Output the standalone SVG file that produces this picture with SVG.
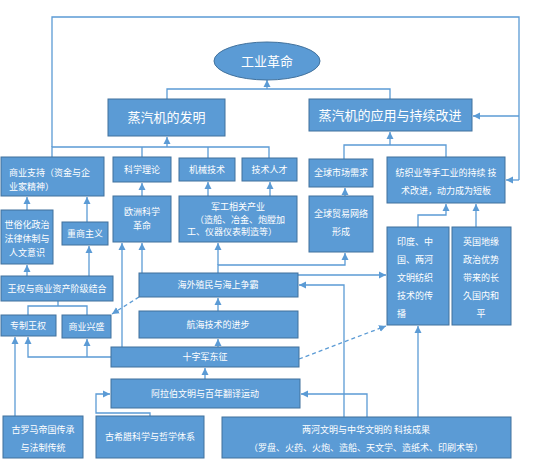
<svg xmlns="http://www.w3.org/2000/svg" width="554" height="470" viewBox="0 0 554 470">
<defs>
<marker id="ah" markerUnits="userSpaceOnUse" markerWidth="8" markerHeight="8" refX="7" refY="4" orient="auto">
<path d="M0,0.5 L7,4 L0,7.5 z" fill="#5B9BD5"/>
</marker>
<style>
.b{fill:#5B9BD5;stroke:#41719C;stroke-width:1}
.t{fill:#fff;font-family:"Noto Sans CJK SC","Noto Sans",sans-serif;font-size:9px;text-anchor:middle}
.l{text-anchor:start}
.big{font-size:13px}
.c{fill:none;stroke:#5B9BD5;stroke-width:1.3}
.a{marker-end:url(#ah)}
.d{stroke-dasharray:4,3}
</style>
</defs>
<rect width="554" height="470" fill="#fff"/>
<g id="connectors">
<path class="c" d="M167 99 V89 H390 V99"/>
<path class="c a" d="M267 89 V80"/>
<path class="c" d="M52 158 V147 H269 V158 M142 157 V147 M208 158 V147"/>
<path class="c a" d="M167 147 V137"/>
<path class="c" d="M52 147 V17 H519 V180"/>
<path class="c a" d="M519 116 H473"/>
<path class="c a" d="M519 180 H506"/>
<path class="c" d="M344 159 V145 H446 V157"/>
<path class="c a" d="M390 145 V132"/>
<path class="c a" d="M27 210 V197"/>
<path class="c a" d="M87 222 V197"/>
<path class="c a" d="M27 276 V265"/>
<path class="c a" d="M89 276 V246"/>
<path class="c a" d="M142 196 V183"/>
<path class="c a" d="M142 273 V243"/>
<path class="c a" d="M122 347 V243"/>
<path class="c a" d="M208 196 V182"/>
<path class="c a" d="M270 196 V182"/>
<path class="c a" d="M345 196 V188"/>
<path class="c a" d="M218 273 V265 H345 V253"/>
<path class="c a" d="M218 265 V243"/>
<path class="c a" d="M298 275 H386"/>
<path class="c a" d="M344 417 V285 H299"/>
<path class="c a" d="M418 227 V215 H446 V204"/>
<path class="c a" d="M476 227 V204"/>
<path class="c" d="M58 301 V306 M28 315 V306 H87 V315"/>
<path class="c a d" d="M139 297 L112 314"/>
<path class="c a" d="M111 357 H28 V337"/>
<path class="c a" d="M87 357 V339"/>
<path class="c a" d="M15 416 V337"/>
<path class="c a" d="M150 416 V413 H96 V394 H110"/>
<path class="c a" d="M205 379 V368"/>
<path class="c a" d="M218 347 V339"/>
<path class="c a" d="M218 311 V298"/>
<path class="c a" d="M367 417 V394 H301"/>
<path class="c a" d="M418 417 V326"/>
<path class="c a d" d="M299 359 L386 326"/>
</g>
<g id="ind"><ellipse class="b" cx="267" cy="61" rx="53" ry="19"/><text class="t big" x="267" y="66">工业革命</text></g>
<g id="inv"><rect class="b" x="108" y="99" width="117" height="37"/><text class="t big" x="166.5" y="122">蒸汽机的发明</text></g>
<g id="app"><rect class="b" x="309" y="99" width="163" height="32"/><text class="t big" x="390" y="120">蒸汽机的应用与持续改进</text></g>
<g id="biz"><rect class="b" x="1" y="157" width="103" height="39"/><text class="t l" x="9" y="176">商业支持（资金与企</text><text class="t l" x="9" y="190">业家精神）</text></g>
<g id="sci"><rect class="b" x="113" y="157" width="58" height="25"/><text class="t" x="142" y="173">科学理论</text></g>
<g id="mech"><rect class="b" x="179" y="158" width="56" height="23"/><text class="t" x="207" y="173">机械技术</text></g>
<g id="talent"><rect class="b" x="242" y="158" width="55" height="23"/><text class="t" x="269.5" y="173">技术人才</text></g>
<g id="market"><rect class="b" x="309" y="159" width="64" height="28"/><text class="t" x="341" y="176">全球市场需求</text></g>
<g id="textile"><rect class="b" x="387" y="157" width="118" height="46"/><text class="t" x="446" y="176">纺织业等手工业的持续 技</text><text class="t" x="446" y="194">术改进，动力成为短板</text></g>
<g id="secular"><rect class="b" x="1" y="210" width="52" height="54"/><text class="t" x="27" y="228">世俗化政治</text><text class="t" x="27" y="242">法律体制与</text><text class="t" x="27" y="256">人文意识</text></g>
<g id="merc"><rect class="b" x="62" y="222" width="46" height="23"/><text class="t" x="85" y="237">重商主义</text></g>
<g id="eusci"><rect class="b" x="113" y="196" width="58" height="46"/><text class="t" x="142" y="215">欧洲科学</text><text class="t" x="142" y="229">革命</text></g>
<g id="mil"><rect class="b" x="179" y="196" width="118" height="46"/><text class="t" x="238" y="210">军工相关产业</text><text class="t" x="240" y="223">（造船、冶金、炮膛加</text><text class="t" x="232" y="235">工、仪器仪表制造等）</text></g>
<g id="trade"><rect class="b" x="309" y="196" width="64" height="56"/><text class="t" x="341" y="217">全球贸易网络</text><text class="t" x="341" y="235">形成</text></g>
<g id="india"><rect class="b" x="387" y="227" width="62" height="98"/><text class="t l" x="397" y="245">印度、中</text><text class="t l" x="397" y="263">国、两河</text><text class="t l" x="397" y="281">文明纺织</text><text class="t l" x="397" y="299">技术的传</text><text class="t l" x="397" y="317">播</text></g>
<g id="uk"><rect class="b" x="452" y="227" width="59" height="98"/><text class="t" x="481" y="245">英国地缘</text><text class="t" x="481" y="263">政治优势</text><text class="t" x="481" y="281">带来的长</text><text class="t" x="481" y="299">久国内和</text><text class="t" x="481" y="317">平</text></g>
<g id="royalbiz"><rect class="b" x="1" y="276" width="112" height="25"/><text class="t" x="57" y="292">王权与商业资产阶级结合</text></g>
<g id="overseas"><rect class="b" x="139" y="273" width="159" height="24"/><text class="t" x="218" y="288">海外殖民与海上争霸</text></g>
<g id="nav"><rect class="b" x="139" y="311" width="159" height="27"/><text class="t" x="218" y="328">航海技术的进步</text></g>
<g id="crusade"><rect class="b" x="111" y="347" width="188" height="20"/><text class="t" x="205" y="360">十字军东征</text></g>
<g id="absolute"><rect class="b" x="1" y="315" width="55" height="21"/><text class="t" x="28" y="329">专制王权</text></g>
<g id="commerce"><rect class="b" x="62" y="315" width="49" height="23"/><text class="t" x="86.5" y="330">商业兴盛</text></g>
<g id="arab"><rect class="b" x="111" y="379" width="189" height="29"/><text class="t" x="205" y="397">阿拉伯文明与百年翻译运动</text></g>
<g id="rome"><rect class="b" x="3" y="416" width="80" height="42"/><text class="t" x="43" y="433">古罗马帝国传承</text><text class="t" x="43" y="451">与法制传统</text></g>
<g id="greece"><rect class="b" x="96" y="416" width="108" height="42"/><text class="t" x="150" y="440">古希腊科学与哲学体系</text></g>
<g id="meso"><rect class="b" x="222" y="417" width="289" height="41"/><text class="t" x="366" y="433">两河文明与中华文明的 科技成果</text><text class="t" x="366" y="451">（罗盘、火药、火炮、造船、天文学、造纸术、印刷术等）</text></g>
</svg>
